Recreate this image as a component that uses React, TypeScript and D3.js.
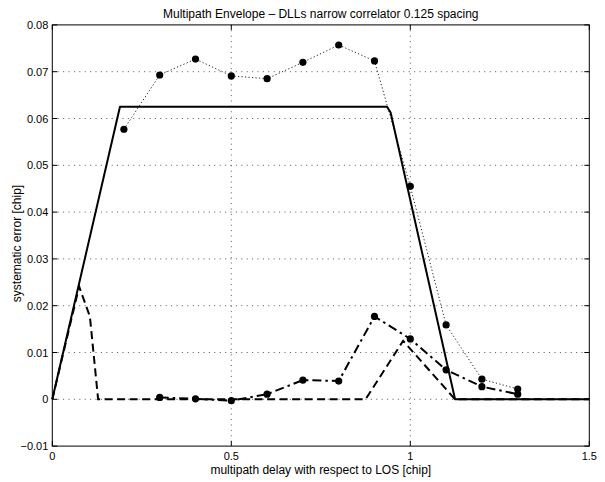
import React from 'react';
import * as d3 from 'd3';

const xTicks = [0, 0.5, 1, 1.5];
const xTickLabels = ['0', '0.5', '1', '1.5'];
const yTicks = [-0.01, 0, 0.01, 0.02, 0.03, 0.04, 0.05, 0.06, 0.07, 0.08];
const yTickLabels = ['\u22120.01', '0', '0.01', '0.02', '0.03', '0.04', '0.05', '0.06', '0.07', '0.08'];

// solid: theoretical envelope
const solidX = [0, 0.189, 0.935, 0.945, 1.125, 1.5];
const solidY = [0, 0.0625, 0.0625, 0.0613, 0, 0];

// dashed (no markers)
const dashedX = [0, 0.075, 0.105, 0.128, 0.875, 0.98, 1.125, 1.5];
const dashedY = [0, 0.0241, 0.0177, 0, 0, 0.0125, 0, 0];

// dotted with markers
const dottedX = [0.2, 0.3, 0.4, 0.5, 0.6, 0.7, 0.8, 0.9, 1.0, 1.1, 1.2, 1.3];
const dottedY = [0.0577, 0.0693, 0.0727, 0.0691, 0.0685, 0.072, 0.0757, 0.0723, 0.0455, 0.0159, 0.0043, 0.0022];

// dash-dot with markers
const dashDotX = [0.3, 0.4, 0.5, 0.6, 0.7, 0.8, 0.9, 1.0, 1.1, 1.2, 1.3];
const dashDotY = [0.0004, 0.0001, -0.0003, 0.0011, 0.0041, 0.0039, 0.0177, 0.0129, 0.0063, 0.0027, 0.0011];

const title = 'Multipath Envelope \u2013 DLLs narrow correlator 0.125 spacing';
const xLabel = 'multipath delay with respect to LOS [chip]';
const yLabel = 'systematic error [chip]';

const zip = (xs: number[], ys: number[]) => xs.map((v, i) => [v, ys[i]] as [number, number]);

export default function App() {
  const W = 605, H = 482;
  const L = 52.3, R = 589.3, T = 24.9, B = 446.1;
  const x = d3.scaleLinear().domain([0, 1.5]).range([L, R]);
  const y = d3.scaleLinear().domain([-0.01, 0.08]).range([B, T]);
  const line = d3.line<[number, number]>().x(d => x(d[0])).y(d => y(d[1]));
  const font = "'Liberation Sans', Arial, Helvetica, sans-serif";
  const tickLen = 5;

  const solid = zip(solidX, solidY);
  const dashed = zip(dashedX, dashedY);
  const dotted = zip(dottedX, dottedY);
  const dashDot = zip(dashDotX, dashDotY);

  return (
    <svg width={W} height={H} style={{ position: 'absolute', left: 0, top: 0, background: '#fff' }} fontFamily={font}>
      <rect x={0} y={0} width={W} height={H} fill="#fff" />
      {/* grid */}
      {xTicks.filter(t => t > 0 && t < 1.5).map(t => (
        <line key={'gx' + t} x1={x(t)} x2={x(t)} y1={T} y2={B} stroke="#555" strokeWidth={1} strokeDasharray="1 4.4" />
      ))}
      {yTicks.filter(t => t > -0.01 && t < 0.08).map(t => (
        <line key={'gy' + t} x1={L} x2={R} y1={y(t)} y2={y(t)} stroke="#555" strokeWidth={1} strokeDasharray="1 4.4" />
      ))}
      {/* series */}
      <path d={line(dotted) || ''} fill="none" stroke="#222" strokeWidth={1} strokeDasharray="1.2 2.3" />
      <path d={line(dashDot) || ''} fill="none" stroke="#000" strokeWidth={2} strokeDasharray="9 4 2.5 4" />
      <path d={line(dashed) || ''} fill="none" stroke="#000" strokeWidth={2} strokeDasharray="8 4.5" />
      <path d={line(solid) || ''} fill="none" stroke="#000" strokeWidth={2} strokeLinejoin="round" />
      {dotted.map((d, i) => (
        <circle key={'md' + i} cx={x(d[0])} cy={y(d[1])} r={3.6} fill="#000" />
      ))}
      {dashDot.map((d, i) => (
        <circle key={'mdd' + i} cx={x(d[0])} cy={y(d[1])} r={3.6} fill="#000" />
      ))}
      {/* frame */}
      <rect x={L} y={T} width={R - L} height={B - T} fill="none" stroke="#000" strokeWidth={1} />
      {/* ticks */}
      {xTicks.map(t => (
        <g key={'tx' + t}>
          <line x1={x(t)} x2={x(t)} y1={B} y2={B - tickLen} stroke="#000" />
          <line x1={x(t)} x2={x(t)} y1={T} y2={T + tickLen} stroke="#000" />
        </g>
      ))}
      {yTicks.map(t => (
        <g key={'ty' + t}>
          <line x1={L} x2={L + tickLen} y1={y(t)} y2={y(t)} stroke="#000" />
          <line x1={R} x2={R - tickLen} y1={y(t)} y2={y(t)} stroke="#000" />
        </g>
      ))}
      {/* tick labels */}
      {xTicks.map((t, i) => (
        <text key={'lx' + t} x={x(t)} y={B + 14} fontSize={11} textAnchor="middle" fill="#000">{xTickLabels[i]}</text>
      ))}
      {yTicks.map((t, i) => (
        <text key={'ly' + t} x={L - 4} y={y(t) + 4} fontSize={11} textAnchor="end" fill="#000">{yTickLabels[i]}</text>
      ))}
      {/* labels */}
      <text x={(L + R) / 2} y={18} fontSize={12} textAnchor="middle" fill="#000">{title}</text>
      <text x={(L + R) / 2} y={474} fontSize={12} textAnchor="middle" fill="#000">{xLabel}</text>
      <text transform={`translate(21,${(T + B) / 2 + 8}) rotate(-90)`} fontSize={12} textAnchor="middle" fill="#000">{yLabel}</text>
    </svg>
  );
}
